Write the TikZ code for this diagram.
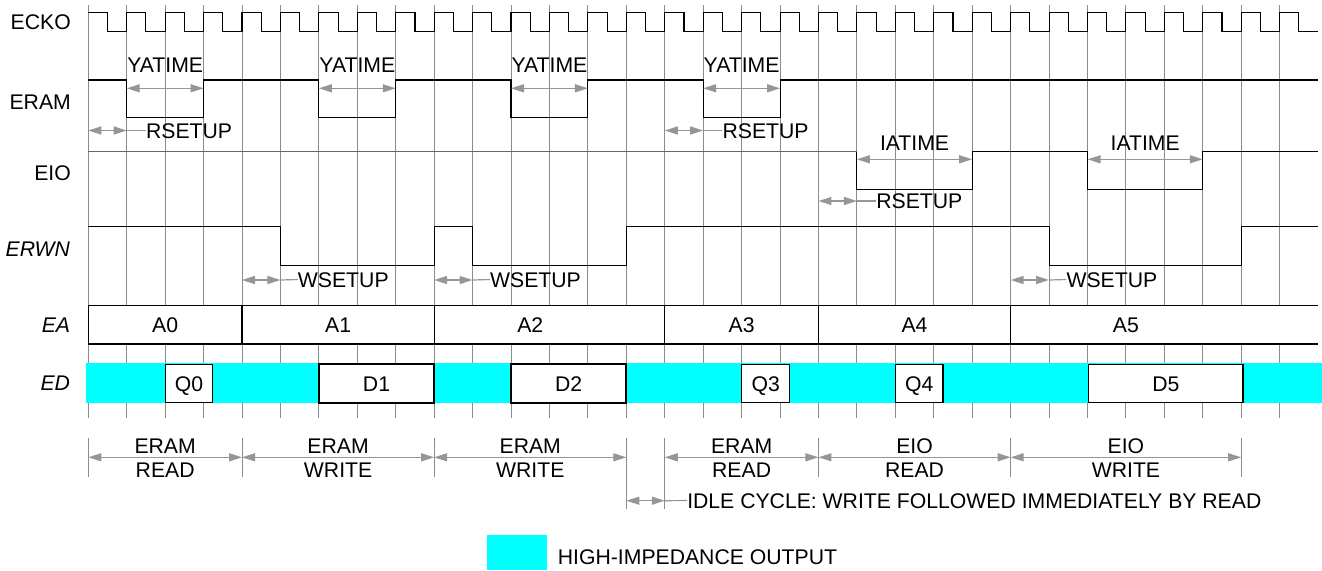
\documentclass[tikz,border=0pt]{standalone}
\usepackage{fontspec}
\setmainfont{Liberation Sans}
\usetikzlibrary{arrows.meta}
\definecolor{gridc}{HTML}{8C8C8C}
\definecolor{arrc}{HTML}{969696}
\definecolor{hiz}{HTML}{00FFFF}
\definecolor{eiog}{HTML}{666666}
\begin{document}
\begin{tikzpicture}[x=38.43pt,y=-1pt,
  txt/.style={font=\fontsize{21.2}{25}\selectfont, inner sep=0pt, text height=15.2pt, text depth=0pt},
  sig/.style={line width=1.1pt, line join=miter},
  gridl/.style={draw=gridc, line width=1pt},
  dim/.style={draw=arrc, line width=1.3pt, {Triangle[length=13pt,width=8pt]}-{Triangle[length=13pt,width=8pt]}},
  lead/.style={draw=arrc, line width=1.2pt},
  tick/.style={draw=gridc, line width=1pt},
  dbox/.style={draw=black, fill=white},
]
\useasboundingbox (-2.2977,0) rectangle (32.102,570);
% grid
\foreach \k in {0,...,31} \draw[gridl] (\k,5) -- (\k,418);
% left labels
\node[txt,anchor=east] (lecko) at (-0.45,22) {ECKO};
\node[txt,anchor=east] (leram) at (-0.45,101.7) {ERAM};
\node[txt,anchor=east] (leio) at (-0.45,173) {EIO};
\node[txt,anchor=east] (lerwn) at (-0.47,248.8) {\itshape ERWN};
\node[txt,anchor=east] (lea) at (-0.47,325.3) {\itshape EA};
\node[txt,anchor=east] (led) at (-0.47,383.3) {\itshape ED};
% ECKO
\draw[sig] (0,12.3) foreach \k in {0,...,30} { -- (\k+0.5,12.3) -- (\k+0.5,31.7) -- (\k+1,31.7) -- (\k+1,12.3) } -- (31.5,12.3) -- (31.5,31.7) -- (32,31.7);
% ERAM
\draw[sig] (0,80) -- (1,80) -- (1,117.7) -- (3,117.7) -- (3,80) -- (6,80) -- (6,117.7) -- (8,117.7) -- (8,80)
  -- (11,80) -- (11,117.7) -- (13,117.7) -- (13,80) -- (16,80) -- (16,117.7) -- (18,117.7) -- (18,80) -- (32,80);
\foreach \a/\n in {1/a,6/b,11/c,16/d} {
  \draw[dim] (\a,88.3) -- (\a+2,88.3);
  \node[txt] (ya\n) at (\a+1,64.5) {YATIME};
}
\foreach \a/\y/\n in {0/130.5/a,15/130.5/b,19/201/c} {
  \draw[dim] (\a,\y) -- (\a+1,\y);
  \node[txt,anchor=west] (rs\n) at (\a+1.5,\y) {RSETUP};
  \draw[lead] (\a+1,\y) -- (rs\n.west);
}
% EIO
\draw[sig,draw=eiog] (0,151.7) -- (20,151.7);
\draw[sig] (20,151.7) -- (20,189.3) -- (23,189.3) -- (23,151.7) -- (26,151.7) -- (26,189.3) -- (29,189.3) -- (29,151.7) -- (32,151.7);
\foreach \a/\n in {20/a,26/b} {
  \draw[dim] (\a,159.3) -- (\a+3,159.3);
  \node[txt] (ia\n) at (\a+1.5,142.8) {IATIME};
}
% ERWN
\draw[sig] (0,226.7) -- (5,226.7) -- (5,265.3) -- (9,265.3) -- (9,226.7) -- (10,226.7) -- (10,265.3) -- (14,265.3) -- (14,226.7)
  -- (25,226.7) -- (25,265.3) -- (30,265.3) -- (30,226.7) -- (32,226.7);
\foreach \a/\n in {4/a,9/b,24/c} {
  \draw[dim] (\a,280) -- (\a+1,280);
  \node[txt,anchor=west] (ws\n) at (\a+1.45,279.5) {WSETUP};
  \draw[lead] (\a+1,280) -- (ws\n.west);
}
% EA
\fill[white] (0,305.3) rectangle (32,344);
\draw[sig] (0,305.3) -- (32,305.3) (0,344) -- (32,344);
\foreach \k in {0,4,9,15,19,24} \draw[sig] (\k,305.3) -- (\k,344);
\foreach \x/\t in {2/A0,6.5/A1,11.5/A2,17/A3,21.5/A4,27/A5} \node[txt] (ea\t) at (\x,325) {\t};
% ED
\fill[hiz] (-0.052,363.3) rectangle (32.102,403.3);
\draw[dbox,line width=1pt] (2,364.3) rectangle (3.24,402.7);
\draw[dbox,line width=2pt] (6,364.3) rectangle (9,402.7);
\draw[dbox,line width=2pt] (11,364.3) rectangle (14,402.7);
\draw[dbox,line width=1.2pt] (17,364.3) rectangle (18.25,402.7);
\draw[dbox,line width=1.2pt] (21,364.3) rectangle (22.24,402.7);
\draw[dbox,line width=1.4pt] (26.03,364.3) rectangle (30.05,402.7);
\node[txt] (dq0) at (2.62,384) {Q0};
\node[txt] (dd1) at (7.5,384) {D1};
\node[txt] (dd2) at (12.5,384) {D2};
\node[txt] (dq3) at (17.625,384) {Q3};
\node[txt] (dq4) at (21.62,384) {Q4};
\node[txt] (dd5) at (28.04,384) {D5};
% bottom cycle dimensions
\foreach \k in {0,4,9,19,24,30} \draw[tick] (\k,438.3) -- (\k,477.3);
\foreach \k in {14,15} \draw[tick] (\k,438.3) -- (\k,509.3);
\foreach \a/\b/\c/\t/\u/\n in {0/4/2/ERAM/READ/a,4/9/6.5/ERAM/WRITE/b,9/14/11.5/ERAM/WRITE/c,15/19/17/ERAM/READ/d,19/24/21.5/EIO/READ/e,24/30/27/EIO/WRITE/f} {
  \draw[dim] (\a,457.3) -- (\b,457.3);
  \node[txt] (ct\n) at (\c,445.8) {\t};
  \node[txt] (cb\n) at (\c,470) {\u};
}
\draw[dim] (14,500.7) -- (15,500.7);
\node[txt,anchor=west] (idle) at (15.58,500.5) {IDLE CYCLE: WRITE FOLLOWED IMMEDIATELY BY READ};
\draw[lead] (15,500.7) -- (idle.west);
% legend
\fill[hiz] (10.375,535) rectangle (11.936,570);
\node[txt,anchor=west] (leg) at (12.214,556.5) {HIGH-IMPEDANCE OUTPUT};
\end{tikzpicture}
\end{document}
